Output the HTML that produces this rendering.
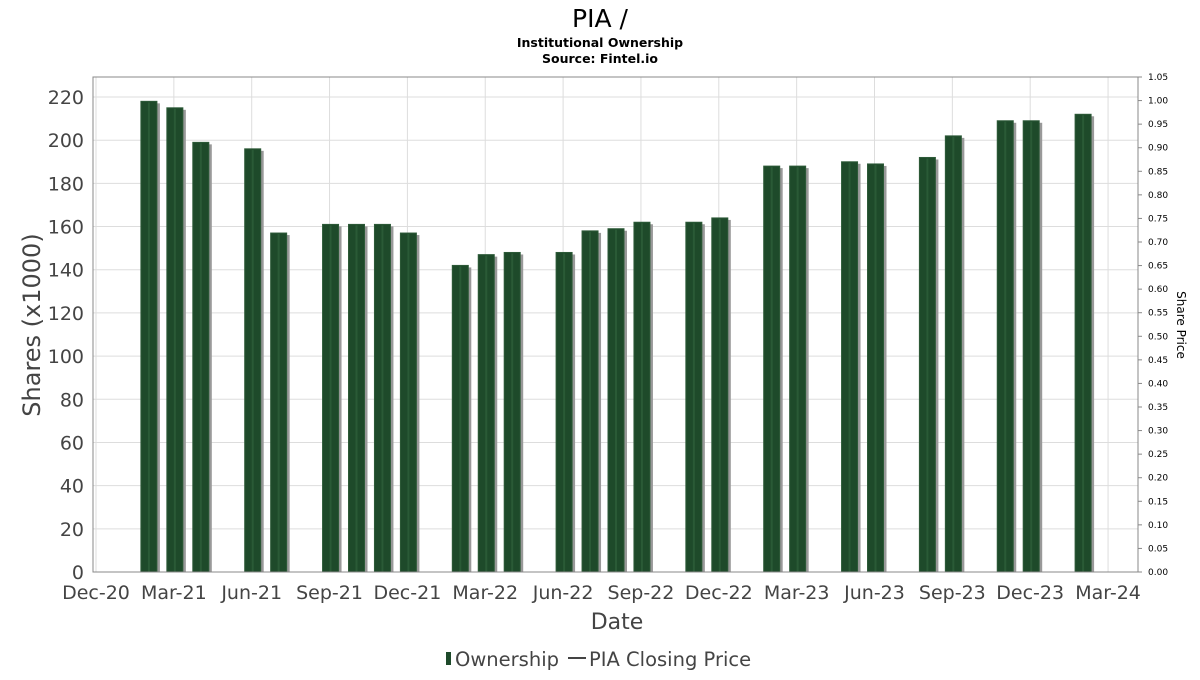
<!DOCTYPE html>
<html><head><meta charset="utf-8">
<style>
body{margin:0;background:#fff;font-family:"Liberation Sans","DejaVu Sans",sans-serif}
svg text{font-family:"DejaVu Sans","Liberation Sans",sans-serif}
</style></head>
<body>
<svg id="chart" width="1200" height="675" xmlns="http://www.w3.org/2000/svg">
<text x="600" y="27" text-anchor="middle" font-size="25" fill="#000">PIA /</text>
<text x="600" y="47" text-anchor="middle" font-size="12.5" font-weight="bold" fill="#000">Institutional Ownership</text>
<text x="600" y="63" text-anchor="middle" font-size="12.5" font-weight="bold" fill="#000">Source: Fintel.io</text>
<g id="grid"></g>
<g id="bars"></g>
<rect x="93" y="77" width="1045" height="495" fill="none" stroke="#888"/>
<g id="axes"></g>
<text x="0" y="0" transform="translate(40,325) rotate(-90)" text-anchor="middle" font-size="24" fill="#444">Shares (x1000)</text>
<text x="1177" y="325" transform="rotate(90 1177 325)" text-anchor="middle" font-size="12" fill="#000">Share Price</text>
<text x="617" y="629" text-anchor="middle" font-size="22" fill="#444">Date</text>
<g>
<rect x="446" y="652" width="5" height="13" fill="#1e4a2a"/>
<text x="455" y="666" font-size="19.5" fill="#444">Ownership</text>
<line x1="568" y1="658" x2="586" y2="658" stroke="#444" stroke-width="2"/>
<text x="589" y="666" font-size="19.5" fill="#444">PIA Closing Price</text>
</g>
</svg>
<script>
const months=[2,3,4,6,7,9,10,11,12,14,15,16,18,19,20,21,23,24,26,27,29,30,32,33,35,36,38];
const shares=[218,215,199,196,157,161,161,161,157,142,147,148,148,158,159,162,162,164,188,188,190,189,192,202,209,209,212];
const xLabels=["Dec-20","Mar-21","Jun-21","Sep-21","Dec-21","Mar-22","Jun-22","Sep-22","Dec-22","Mar-23","Jun-23","Sep-23","Dec-23","Mar-24"];
const yTicks=[0,20,40,60,80,100,120,140,160,180,200,220];
const y2Ticks=[0,0.05,0.1,0.15,0.2,0.25,0.3,0.35,0.4,0.45,0.5,0.55,0.6,0.65,0.7,0.75,0.8,0.85,0.9,0.95,1.0,1.05];
const NS="http://www.w3.org/2000/svg";
const xm=m=>96+m*25.95;
const y=v=>572-v*2.159;
const y2=v=>572-v*(495/1.05);
function mk(t,a,p){const e=document.createElementNS(NS,t);for(const k in a)e.setAttribute(k,a[k]);p.appendChild(e);return e;}
const grid=document.getElementById('grid'),bars=document.getElementById('bars'),axes=document.getElementById('axes');
yTicks.forEach(v=>{
 const l=mk('line',{x1:93,x2:1138,y1:y(v),y2:y(v),stroke:'#ddd'},grid);
 
 
 const t=mk('text',{x:84,y:y(v)+7,'text-anchor':'end','font-size':19,fill:'#444'},axes);t.textContent=v;
 
 
});
xLabels.forEach((s,i)=>{
 const x=xm(i*3);
 const l=mk('line',{x1:x,x2:x,y1:77,y2:572,stroke:'#ddd'},grid);
 
 
 const t=mk('text',{x:x,y:599,'text-anchor':'middle','font-size':19,fill:'#444'},axes);t.textContent=s;
 
 
});
y2Ticks.forEach(v=>{
 mk('line',{x1:1138,x2:1142,y1:y2(v),y2:y2(v),stroke:'#888'},axes);
 const t=mk('text',{x:1148,y:y2(v)+3,'font-size':9,fill:'#000'},axes);t.textContent=v.toFixed(2);
 
 
});
months.forEach((m,i)=>{
 const cx=xm(m)+1,top=y(shares[i]);
 mk('rect',{x:cx-8+3,y:top+2,width:16,height:572-top-2,fill:'#999'},bars);
 const r=mk('rect',{x:cx-8,y:top,width:16,height:572-top,fill:'#1e4a2a',stroke:'#2d5a38','stroke-width':1},bars);
 
 
 mk('line',{x1:cx,x2:cx,y1:top+1,y2:572,stroke:'#2a5a36','stroke-width':2},bars);
});
</script>
</body></html>
